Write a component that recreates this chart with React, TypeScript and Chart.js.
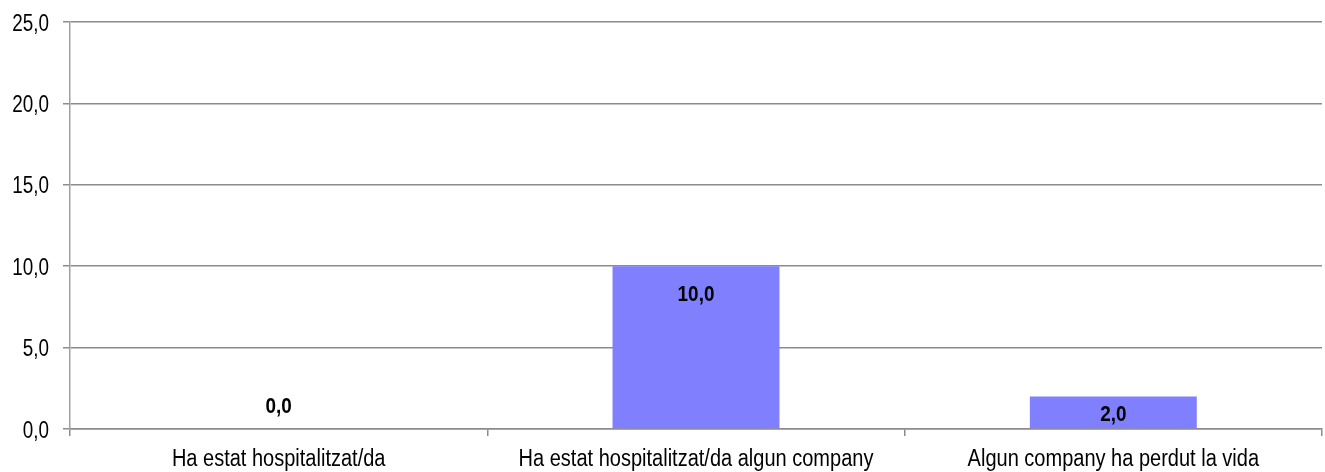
import React, { useEffect, useRef } from "react";
import { Chart, registerables } from "chart.js";

Chart.register(...registerables);

const categories = [
  "Ha estat hospitalitzat/da",
  "Ha estat hospitalitzat/da algun company",
  "Algun company ha perdut la vida",
];
const values = [0.0, 10.0, 2.0];
const yMin = 0;
const yMax = 25;
const yStep = 5;

const FONT = "'Liberation Sans', Arial, sans-serif";
const fmt = (v: number) => v.toFixed(1).replace(".", ",");

// draws text horizontally condensed (reference uses a narrow Arial-like face)
function drawText(ctx: CanvasRenderingContext2D, text: string, x: number, y: number, sx: number) {
  ctx.save();
  ctx.translate(x, y);
  ctx.scale(sx, 1);
  ctx.fillText(text, 0, 0);
  ctx.restore();
}

const textPlugin = {
  id: "condensedText",
  afterDraw(chart: any) {
    const ctx: CanvasRenderingContext2D = chart.ctx;
    const xs = chart.scales.x;
    const ys = chart.scales.y;
    ctx.save();
    ctx.fillStyle = "#000";
    ctx.textBaseline = "alphabetic";

    // y-axis tick labels
    ctx.font = `23px ${FONT}`;
    ctx.textAlign = "right";
    ys.ticks.forEach((t: any, i: number) => {
      const py = ys.getPixelForTick(i);
      drawText(ctx, fmt(Number(t.value)), ys.right - 21, py + 8.5, 0.82);
    });

    // x-axis category labels
    ctx.textAlign = "center";
    xs.ticks.forEach((_t: any, i: number) => {
      const px = xs.getPixelForTick(i);
      drawText(ctx, String(chart.data.labels[i]), px, xs.top + 37, 0.87);
    });

    // bar value labels
    ctx.font = `bold 22px ${FONT}`;
    const meta = chart.getDatasetMeta(0);
    const ds = chart.data.datasets[0];
    meta.data.forEach((bar: any, i: number) => {
      const v = ds.data[i] as number;
      const h = bar.base - bar.y;
      let y: number;
      if (h >= 54) y = bar.y + 34.5;
      else if (h > 0) y = (bar.y + bar.base) / 2 + 8.7;
      else y = bar.base - 15.7;
      drawText(ctx, fmt(v), bar.x, y, 0.86);
    });
    ctx.restore();
  },
};

export default function App() {
  const ref = useRef<HTMLCanvasElement>(null);
  useEffect(() => {
    if (!ref.current) return;
    const chart = new Chart(ref.current, {
      type: "bar",
      data: {
        labels: categories,
        datasets: [
          {
            data: values,
            backgroundColor: "#8080FF",
            borderWidth: 0,
            barPercentage: 0.4,
            categoryPercentage: 1,
          },
        ],
      },
      options: {
        animation: false,
        responsive: false,
        maintainAspectRatio: false,
        layout: { padding: { top: 22, right: 3, left: 0, bottom: 0 } },
        plugins: { legend: { display: false }, tooltip: { enabled: false } },
        scales: {
          x: {
            offset: true,
            grid: {
              offset: true,
              drawOnChartArea: false,
              drawTicks: true,
              tickLength: 7,
              color: "#8c8c8c",
              lineWidth: 1.5,
            },
            border: { display: true, color: "#8c8c8c", width: 1.5 },
            ticks: { display: false, autoSkip: false, maxRotation: 0 },
            afterFit: (s: any) => {
              s.height = 43;
            },
          },
          y: {
            min: yMin,
            max: yMax,
            grid: { color: "#8c8c8c", tickLength: 7, lineWidth: 1.5 },
            border: { display: true, color: "#a0a0a0", width: 1.5 },
            ticks: { display: false, stepSize: yStep },
            afterFit: (s: any) => {
              s.width = 70;
            },
          },
        },
      },
      plugins: [textPlugin],
    });
    return () => chart.destroy();
  }, []);
  return (
    <div style={{ position: "fixed", left: 0, top: 0, width: 1325, height: 472, background: "#fff" }}>
      <canvas ref={ref} width={1325} height={472} style={{ display: "block" }} />
    </div>
  );
}
